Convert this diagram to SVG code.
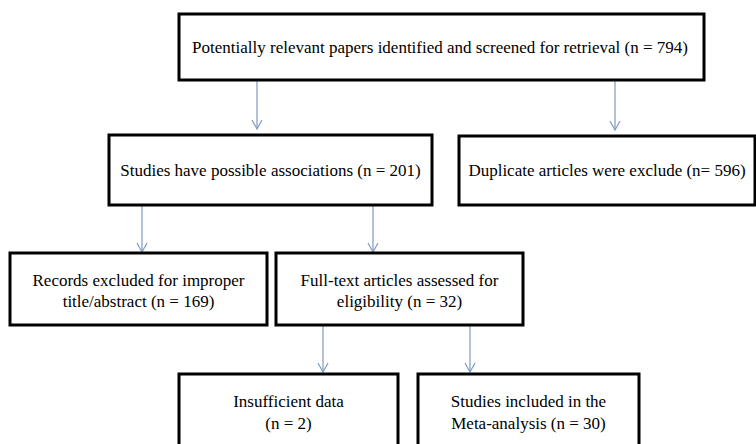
<svg xmlns="http://www.w3.org/2000/svg" width="756" height="444" viewBox="0 0 756 444">
<style>
.box{fill:#fff;stroke:#000;stroke-width:3}
.t{font-family:"Liberation Serif","Times New Roman",serif;font-size:17px;fill:#000;text-anchor:middle}
.c{stroke:#7f9cc0;stroke-width:1.2;fill:none}
</style>
<defs>
<marker id="ah" markerWidth="12" markerHeight="12" refX="10" refY="6" orient="auto" markerUnits="userSpaceOnUse">
<path d="M1,1 L10,6 L1,11" fill="none" stroke="#7f9cc0" stroke-width="1.2"/>
</marker>
</defs>
<rect width="756" height="444" fill="#fff"/>
<g id="connectors">
<line class="c" x1="257" y1="81" x2="257" y2="129" marker-end="url(#ah)"/>
<line class="c" x1="615" y1="81" x2="615" y2="130" marker-end="url(#ah)"/>
<line class="c" x1="142" y1="206" x2="142" y2="252" marker-end="url(#ah)"/>
<line class="c" x1="373" y1="206" x2="373" y2="252" marker-end="url(#ah)"/>
<line class="c" x1="323" y1="326" x2="323" y2="372" marker-end="url(#ah)"/>
<line class="c" x1="470" y1="326" x2="470" y2="372" marker-end="url(#ah)"/>
</g>
<g id="n1">
<rect class="box" x="179" y="14" width="525" height="66"/>
<text class="t" x="440" y="53">Potentially relevant papers identified and screened for retrieval (n = 794)</text>
</g>
<g id="n2">
<rect class="box" x="109" y="135" width="323" height="70"/>
<text class="t" x="270.5" y="176">Studies have possible associations (n = 201)</text>
</g>
<g id="n3">
<rect class="box" x="459" y="136" width="296" height="69"/>
<text class="t" x="607" y="176">Duplicate articles were exclude (n= 596)</text>
</g>
<g id="n4">
<rect class="box" x="10" y="253" width="257" height="72"/>
<text class="t" x="138.5" y="286">Records excluded for improper</text>
<text class="t" x="138.5" y="307">title/abstract (n = 169)</text>
</g>
<g id="n5">
<rect class="box" x="276" y="253" width="247" height="72"/>
<text class="t" x="399.5" y="286">Full-text articles assessed for</text>
<text class="t" x="399.5" y="307">eligibility (n = 32)</text>
</g>
<g id="n6">
<rect class="box" x="179" y="374" width="219" height="80"/>
<text class="t" x="288.5" y="407">Insufficient data</text>
<text class="t" x="288.5" y="429">(n = 2)</text>
</g>
<g id="n7">
<rect class="box" x="418" y="374" width="221" height="80"/>
<text class="t" x="528.5" y="407">Studies included in the</text>
<text class="t" x="528.5" y="429">Meta-analysis (n = 30)</text>
</g>
</svg>
